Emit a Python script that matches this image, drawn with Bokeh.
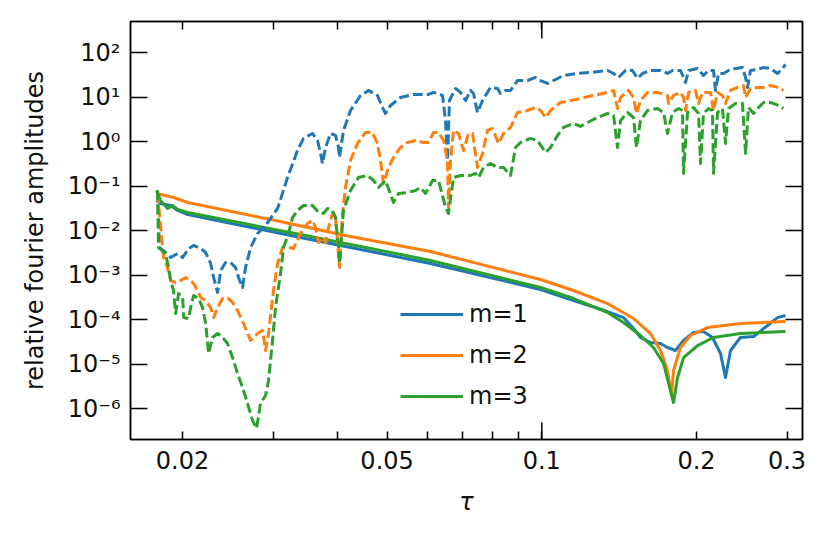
import math
from bokeh.plotting import figure
from bokeh.models import FixedTicker, LogAxis, CustomJSTickFormatter
from bokeh.embed import file_html
from bokeh.resources import INLINE

# ---------------- data ----------------
series_labels = ["m=1", "m=2", "m=3"]
series_colors = ["#1f77b4", "#ff7f0e", "#2ca02c"]

# solid curves
tau_m1 = [0.01780, 0.01812, 0.01896, 0.01956, 0.02046, 0.03392, 0.06074, 0.09942, 0.1153, 0.1342,
          0.1442, 0.1508, 0.1556, 0.1627, 0.1702, 0.1756, 0.1820, 0.1887, 0.1973, 0.2063,
          0.2148, 0.2227, 0.2277, 0.2329, 0.2435, 0.2582, 0.2749, 0.2874, 0.2979]
amp_m1 = [0.0478, 0.0409, 0.0369, 0.0285, 0.0231, 0.00703, 0.00183, 0.000476, 0.000269, 0.000152,
          0.000111, 6.31e-5, 3.96e-5, 3.05e-5, 2.90e-5, 2.36e-5, 2.02e-5, 3.39e-5, 5.13e-5, 5.40e-5,
          3.96e-5, 1.73e-5, 4.98e-6, 2.02e-5, 3.96e-5, 4.17e-5, 7.37e-5, 0.000111, 0.000124]

tau_m2 = [0.01780, 0.01921, 0.02046, 0.02967, 0.04244, 0.06074, 0.09942, 0.1153, 0.1342, 0.1508,
          0.1627, 0.1702, 0.1756, 0.1788, 0.1804, 0.1861, 0.1947, 0.2101, 0.2435, 0.2979]
amp_m2 = [0.0687, 0.0558, 0.0431, 0.01786, 0.00741, 0.00340, 0.000798, 0.000452, 0.000230, 0.000106,
          4.87e-5, 2.02e-5, 7.16e-6, 1.96e-6, 7.16e-6, 2.36e-5, 4.39e-5, 6.64e-5, 8.17e-5, 9.06e-5]

tau_m3 = [0.01780, 0.01812, 0.01870, 0.01913, 0.01956, 0.02046, 0.03392, 0.06074, 0.09942, 0.1153,
          0.1342, 0.1442, 0.1556, 0.1649, 0.1725, 0.1780, 0.1804, 0.1837, 0.1887, 0.2009,
          0.2158, 0.2435, 0.2979]
amp_m3 = [0.0802, 0.0478, 0.0316, 0.0369, 0.0300, 0.0257, 0.00821, 0.00214, 0.000528, 0.000298,
          0.000145, 8.61e-5, 4.39e-5, 2.36e-5, 1.03e-5, 2.54e-6, 1.36e-6, 4.98e-6, 1.40e-5, 2.61e-5,
          3.96e-5, 4.87e-5, 5.40e-5]

# dashed curves
tau_m1_dashed = [0.01788, 0.01804, 0.01853, 0.01896, 0.01956, 0.02001, 0.02055, 0.02102, 0.02169, 0.02218,
                 0.02268, 0.02299, 0.02340, 0.02372, 0.02425, 0.02480, 0.02536, 0.02570, 0.02617, 0.02652,
                 0.02713, 0.02799, 0.02901, 0.02993, 0.03061, 0.03201, 0.03347, 0.03438, 0.03580, 0.03662,
                 0.03711, 0.03744, 0.03795, 0.03881, 0.03969, 0.04022, 0.04040, 0.04113, 0.04244, 0.04439,
                 0.04601, 0.04790, 0.04898, 0.04964, 0.05076, 0.05309, 0.05627, 0.06020, 0.06156, 0.06409,
                 0.06496, 0.06554, 0.06612, 0.06793, 0.06948, 0.07106, 0.07266, 0.07364, 0.07497, 0.07667,
                 0.07947, 0.08200, 0.08311, 0.08499, 0.08692, 0.08969, 0.09380, 0.09721, 0.09942, 0.1026,
                 0.1054, 0.1102, 0.1173, 0.1243, 0.1342, 0.1379, 0.1410, 0.1455, 0.1501, 0.1535,
                 0.1570, 0.1627, 0.1702, 0.1756, 0.1796, 0.1861, 0.1887, 0.1904, 0.1930, 0.2009,
                 0.2063, 0.2110, 0.2158, 0.2177, 0.2207, 0.2257, 0.2308, 0.2381, 0.2457, 0.2491,
                 0.2513, 0.2547, 0.2628, 0.2700, 0.2786, 0.2874, 0.2939, 0.2979]
amp_m1_dashed = [0.0802, 0.00419, 0.00323, 0.00249, 0.00307, 0.00249, 0.00398, 0.00465, 0.00398, 0.00323,
                 0.00183, 0.000885, 0.000407, 0.00127, 0.00193, 0.00193, 0.00149, 0.000885, 0.000528, 0.00149,
                 0.00419, 0.00865, 0.0131, 0.0220, 0.0316, 0.157, 0.637, 1.19, 1.54, 1.07,
                 0.546, 0.325, 0.744, 1.54, 1.39, 0.744, 0.443, 1.80, 5.06, 11.0,
                 14.3, 11.0, 5.91, 4.33, 6.56, 9.93, 11.6, 11.6, 12.9, 11.0,
                 3.01, 0.380, 8.49, 15.8, 12.9, 8.49, 14.3, 12.2, 4.56, 8.49,
                 16.7, 15.8, 12.2, 14.3, 14.3, 23.9, 23.9, 28.0, 23.9, 20.5,
                 23.9, 31.0, 34.4, 36.2, 40.2, 34.4, 28.0, 40.2, 40.2, 26.6,
                 34.4, 40.2, 40.2, 34.4, 40.2, 40.2, 28.0, 21.6, 40.2, 44.6,
                 31.0, 40.2, 40.2, 14.3, 34.4, 34.4, 40.2, 44.6, 46.9, 28.0,
                 16.7, 40.2, 42.3, 46.9, 44.6, 34.4, 44.6, 54.8]

tau_m2_dashed = [0.01788, 0.01837, 0.01870, 0.01896, 0.01939, 0.01983, 0.02028, 0.02074, 0.02102, 0.02140,
                 0.02169, 0.02218, 0.02268, 0.02299, 0.02340, 0.02393, 0.02447, 0.02502, 0.02559, 0.02628,
                 0.02713, 0.02799, 0.02862, 0.02901, 0.02940, 0.03006, 0.03061, 0.03130, 0.03215, 0.03288,
                 0.03392, 0.03500, 0.03580, 0.03629, 0.03678, 0.03744, 0.03795, 0.03846, 0.03916, 0.03969,
                 0.04040, 0.04095, 0.04150, 0.04244, 0.04379, 0.04539, 0.04683, 0.04790, 0.04854, 0.04920,
                 0.05032, 0.05146, 0.05309, 0.05478, 0.05678, 0.05886, 0.06020, 0.06156, 0.06295, 0.06438,
                 0.06554, 0.06583, 0.06642, 0.06732, 0.06886, 0.07042, 0.07201, 0.07332, 0.07497, 0.07667,
                 0.07841, 0.08018, 0.08236, 0.08424, 0.08692, 0.08969, 0.09380, 0.09721, 0.09942, 0.1017,
                 0.1040, 0.1087, 0.1137, 0.1189, 0.1260, 0.1342, 0.1379, 0.1404, 0.1423, 0.1475,
                 0.1508, 0.1528, 0.1556, 0.1606, 0.1679, 0.1756, 0.1764, 0.1804, 0.1861, 0.1887,
                 0.1904, 0.1930, 0.1991, 0.2018, 0.2054, 0.2129, 0.2158, 0.2197, 0.2247, 0.2277,
                 0.2329, 0.2403, 0.2468, 0.2491, 0.2547, 0.2628, 0.2700, 0.2786, 0.2887, 0.2952]
amp_m2_dashed = [0.0687, 0.00249, 0.00149, 0.000758, 0.000684, 0.000758, 0.000885, 0.000758, 0.000649, 0.000452,
                 0.000314, 0.000269, 0.000187, 0.000111, 0.000187, 0.000298, 0.000314, 0.000243, 0.000160, 8.17e-5,
                 3.39e-5, 4.87e-5, 5.69e-5, 2.02e-5, 4.87e-5, 0.000452, 0.00183, 0.00419, 0.00419, 0.00398,
                 0.00865, 0.0145, 0.0170, 0.0118, 0.00543, 0.00703, 0.00543, 0.0118, 0.0244, 0.0198,
                 0.00149, 0.0244, 0.0938, 0.380, 0.916, 1.62, 1.62, 0.916, 0.380, 0.115,
                 0.264, 0.443, 0.744, 0.965, 1.07, 0.965, 0.965, 1.62, 1.62, 1.07,
                 0.380, 0.0333, 0.380, 1.80, 1.54, 0.637, 1.54, 1.54, 0.264, 0.546,
                 1.80, 1.99, 0.916, 1.54, 2.10, 4.56, 5.06, 5.91, 5.06, 3.52,
                 5.06, 7.66, 8.49, 9.42, 11.0, 12.9, 14.3, 5.61, 9.93, 14.3,
                 9.93, 4.33, 8.49, 12.9, 12.9, 11.0, 7.27, 11.0, 12.9, 9.93,
                 5.06, 12.9, 14.3, 7.27, 12.9, 12.9, 5.06, 12.9, 11.0, 7.27,
                 14.3, 16.7, 18.5, 9.93, 15.8, 16.7, 16.7, 18.5, 16.7, 14.3]

tau_m3_dashed = [0.01788, 0.01796, 0.01853, 0.01879, 0.01896, 0.01921, 0.01939, 0.01965, 0.02001, 0.02010,
                 0.02055, 0.02074, 0.02102, 0.02149, 0.02188, 0.02218, 0.02248, 0.02288, 0.02340, 0.02393,
                 0.02447, 0.02502, 0.02559, 0.02617, 0.02676, 0.02737, 0.02786, 0.02836, 0.02901, 0.02940,
                 0.02993, 0.03033, 0.03102, 0.03144, 0.03215, 0.03273, 0.03347, 0.03438, 0.03580, 0.03678,
                 0.03761, 0.03829, 0.03916, 0.03969, 0.04022, 0.04040, 0.04113, 0.04244, 0.04399, 0.04580,
                 0.04704, 0.04811, 0.04964, 0.05146, 0.05262, 0.05478, 0.05678, 0.05807, 0.05939, 0.06128,
                 0.06295, 0.06496, 0.06583, 0.06732, 0.06948, 0.07266, 0.07430, 0.07531, 0.07701, 0.07947,
                 0.08200, 0.08424, 0.08692, 0.08889, 0.09091, 0.09506, 0.09808, 0.1017, 0.1040, 0.1073,
                 0.1102, 0.1153, 0.1189, 0.1227, 0.1283, 0.1342, 0.1379, 0.1404, 0.1423, 0.1468,
                 0.1508, 0.1528, 0.1556, 0.1606, 0.1679, 0.1725, 0.1756, 0.1796, 0.1845, 0.1878,
                 0.1887, 0.1921, 0.1973, 0.2018, 0.2036, 0.2063, 0.2110, 0.2148, 0.2158, 0.2197,
                 0.2247, 0.2277, 0.2308, 0.2381, 0.2457, 0.2491, 0.2524, 0.2582, 0.2640, 0.2700,
                 0.2786, 0.2887, 0.2952]
amp_m3_dashed = [0.0802, 0.00419, 0.00307, 0.00149, 0.000758, 0.000452, 0.000137, 0.000387, 0.000314, 0.000111,
                 0.000106, 0.000187, 0.000348, 0.000298, 0.000187, 8.17e-5, 1.73e-5, 3.96e-5, 4.87e-5, 3.96e-5,
                 2.90e-5, 1.40e-5, 6.12e-6, 2.97e-6, 1.30e-6, 5.37e-7, 3.55e-7, 1.30e-6, 1.96e-6, 4.27e-6,
                 3.39e-5, 0.000187, 0.00109, 0.00419, 0.00865, 0.0198, 0.0285, 0.0369, 0.0369, 0.0257,
                 0.0244, 0.0316, 0.0285, 0.0198, 0.00419, 0.00183, 0.0285, 0.0802, 0.157, 0.175,
                 0.135, 0.0938, 0.135, 0.0431, 0.0687, 0.0723, 0.0802, 0.0938, 0.0687, 0.135,
                 0.135, 0.0333, 0.0244, 0.157, 0.175, 0.175, 0.194, 0.157, 0.264, 0.325,
                 0.264, 0.264, 0.175, 0.744, 0.965, 1.19, 1.07, 0.574, 0.744, 1.39,
                 2.10, 2.58, 2.21, 2.72, 3.52, 4.33, 3.91, 0.744, 3.01, 4.56,
                 3.52, 0.744, 3.01, 5.06, 5.61, 4.56, 1.54, 4.56, 5.61, 5.06,
                 0.194, 4.56, 5.91, 4.33, 0.325, 4.33, 5.61, 5.06, 0.194, 4.56,
                 5.61, 0.916, 5.61, 7.27, 7.27, 0.546, 5.91, 4.33, 5.91, 7.66,
                 7.66, 6.56, 5.61]

# axis ticks
x_ticks = [0.02, 0.05, 0.1, 0.2, 0.3]
x_tick_labels = ["0.02", "0.05", "0.1", "0.2", "0.3"]
x_minor_ticks = [0.03, 0.04, 0.06, 0.07, 0.08, 0.09]
x_long_tick = 0.1
y_ticks = [1e-6, 1e-5, 1e-4, 1e-3, 1e-2, 1e-1, 1e0, 1e1, 1e2]
y_tick_labels = ["10⁻⁶", "10⁻⁵", "10⁻⁴", "10⁻³", "10⁻²", "10⁻¹", "10⁰", "10¹", "10²"]

x_label = "τ"
y_label = "relative fourier amplitudes"

# ---------------- layout / style ----------------
X_RANGE = (0.01584, 0.3215)
Y_RANGE = (2.01e-7, 508.0)
W, H = 829, 535
BL, BR, BT, BB = 130, 27, 21, 96
FONT = "DejaVu Sans"
FS = "24px"
LW = 3.0

p = figure(width=W, height=H, x_axis_type="log", y_axis_type="log",
           x_range=X_RANGE, y_range=Y_RANGE, output_backend="svg",
           toolbar_location=None, min_border_left=BL, min_border_right=BR,
           min_border_top=BT, min_border_bottom=BB)
p.grid.visible = False
p.outline_line_color = "black"
p.outline_line_width = 1.5
p.background_fill_color = "white"
p.border_fill_color = "white"

xt = FixedTicker(ticks=x_ticks, minor_ticks=x_minor_ticks)
yt = FixedTicker(ticks=y_ticks, minor_ticks=[])
blank = CustomJSTickFormatter(code="return ''")

def style_axis(ax, major_len):
    ax.axis_line_width = 1.5
    ax.axis_line_color = "black"
    ax.major_tick_in = major_len
    ax.major_tick_out = 0
    ax.minor_tick_in = 8
    ax.minor_tick_out = 0
    ax.major_tick_line_width = 1.5
    ax.minor_tick_line_width = 1.5
    ax.major_tick_line_color = "black"
    ax.minor_tick_line_color = "black"
    ax.major_label_text_font = FONT
    ax.major_label_text_font_size = FS
    ax.major_label_text_color = "#111111"

xa = p.xaxis[0]
xa.ticker = xt
style_axis(xa, 8)
xa.major_label_overrides = dict(zip(x_ticks, x_tick_labels))
xa.major_label_standoff = 11
xa.axis_label = x_label
xa.axis_label_text_font = FONT
xa.axis_label_text_font_size = FS
xa.axis_label_text_font_style = "italic"
xa.axis_label_standoff = 16
xa.axis_label_text_color = "#111111"

ya = p.yaxis[0]
ya.ticker = yt
style_axis(ya, 17)
ya.major_label_overrides = dict(zip(y_ticks, y_tick_labels))
ya.major_label_standoff = 10
ya.axis_label = y_label
ya.axis_label_text_font = FONT
ya.axis_label_text_font_size = FS
ya.axis_label_text_font_style = "normal"
ya.axis_label_standoff = 16
ya.axis_label_text_color = "#111111"

top = LogAxis(ticker=xt, formatter=blank)
style_axis(top, 8)
top.major_label_text_font_size = "0px"
top.major_label_standoff = 0
p.add_layout(top, "above")

right = LogAxis(ticker=yt, formatter=blank)
style_axis(right, 17)
right.major_label_text_font_size = "0px"
right.major_label_standoff = 0
p.add_layout(right, "right")

# long major tick at 0.1 on bottom and top
frame_h = H - BT - BB
dec = math.log10(Y_RANGE[1]) - math.log10(Y_RANGE[0])
tick_dec = dec * 17 / frame_h
p.segment(x0=[x_long_tick, x_long_tick], x1=[x_long_tick, x_long_tick],
          y0=[Y_RANGE[0], Y_RANGE[1]],
          y1=[Y_RANGE[0] * 10 ** tick_dec, Y_RANGE[1] / 10 ** tick_dec],
          line_color="black", line_width=1.5)

solid = [(tau_m1, amp_m1), (tau_m2, amp_m2), (tau_m3, amp_m3)]
dashed = [(tau_m1_dashed, amp_m1_dashed), (tau_m2_dashed, amp_m2_dashed), (tau_m3_dashed, amp_m3_dashed)]

for (xs, ys), c, lab in zip(solid, series_colors, series_labels):
    p.line(xs, ys, line_color=c, line_width=LW, legend_label=lab, line_join="round")
for (xs, ys), c in zip(dashed, series_colors):
    p.line(xs, ys, line_color=c, line_width=LW, line_dash="10 4", line_join="round")

lg = p.legend[0]
lg.location = (270, 28)
lg.padding = 0
lg.margin = 0
lg.border_line_alpha = 0
lg.background_fill_alpha = 0
lg.glyph_width = 63
lg.glyph_height = 30
lg.label_height = 30
lg.spacing = 11
lg.label_standoff = 6
lg.label_text_font = FONT
lg.label_text_font_size = FS
lg.label_text_color = "#111111"

open("out.html", "w").write(file_html(p, INLINE))
